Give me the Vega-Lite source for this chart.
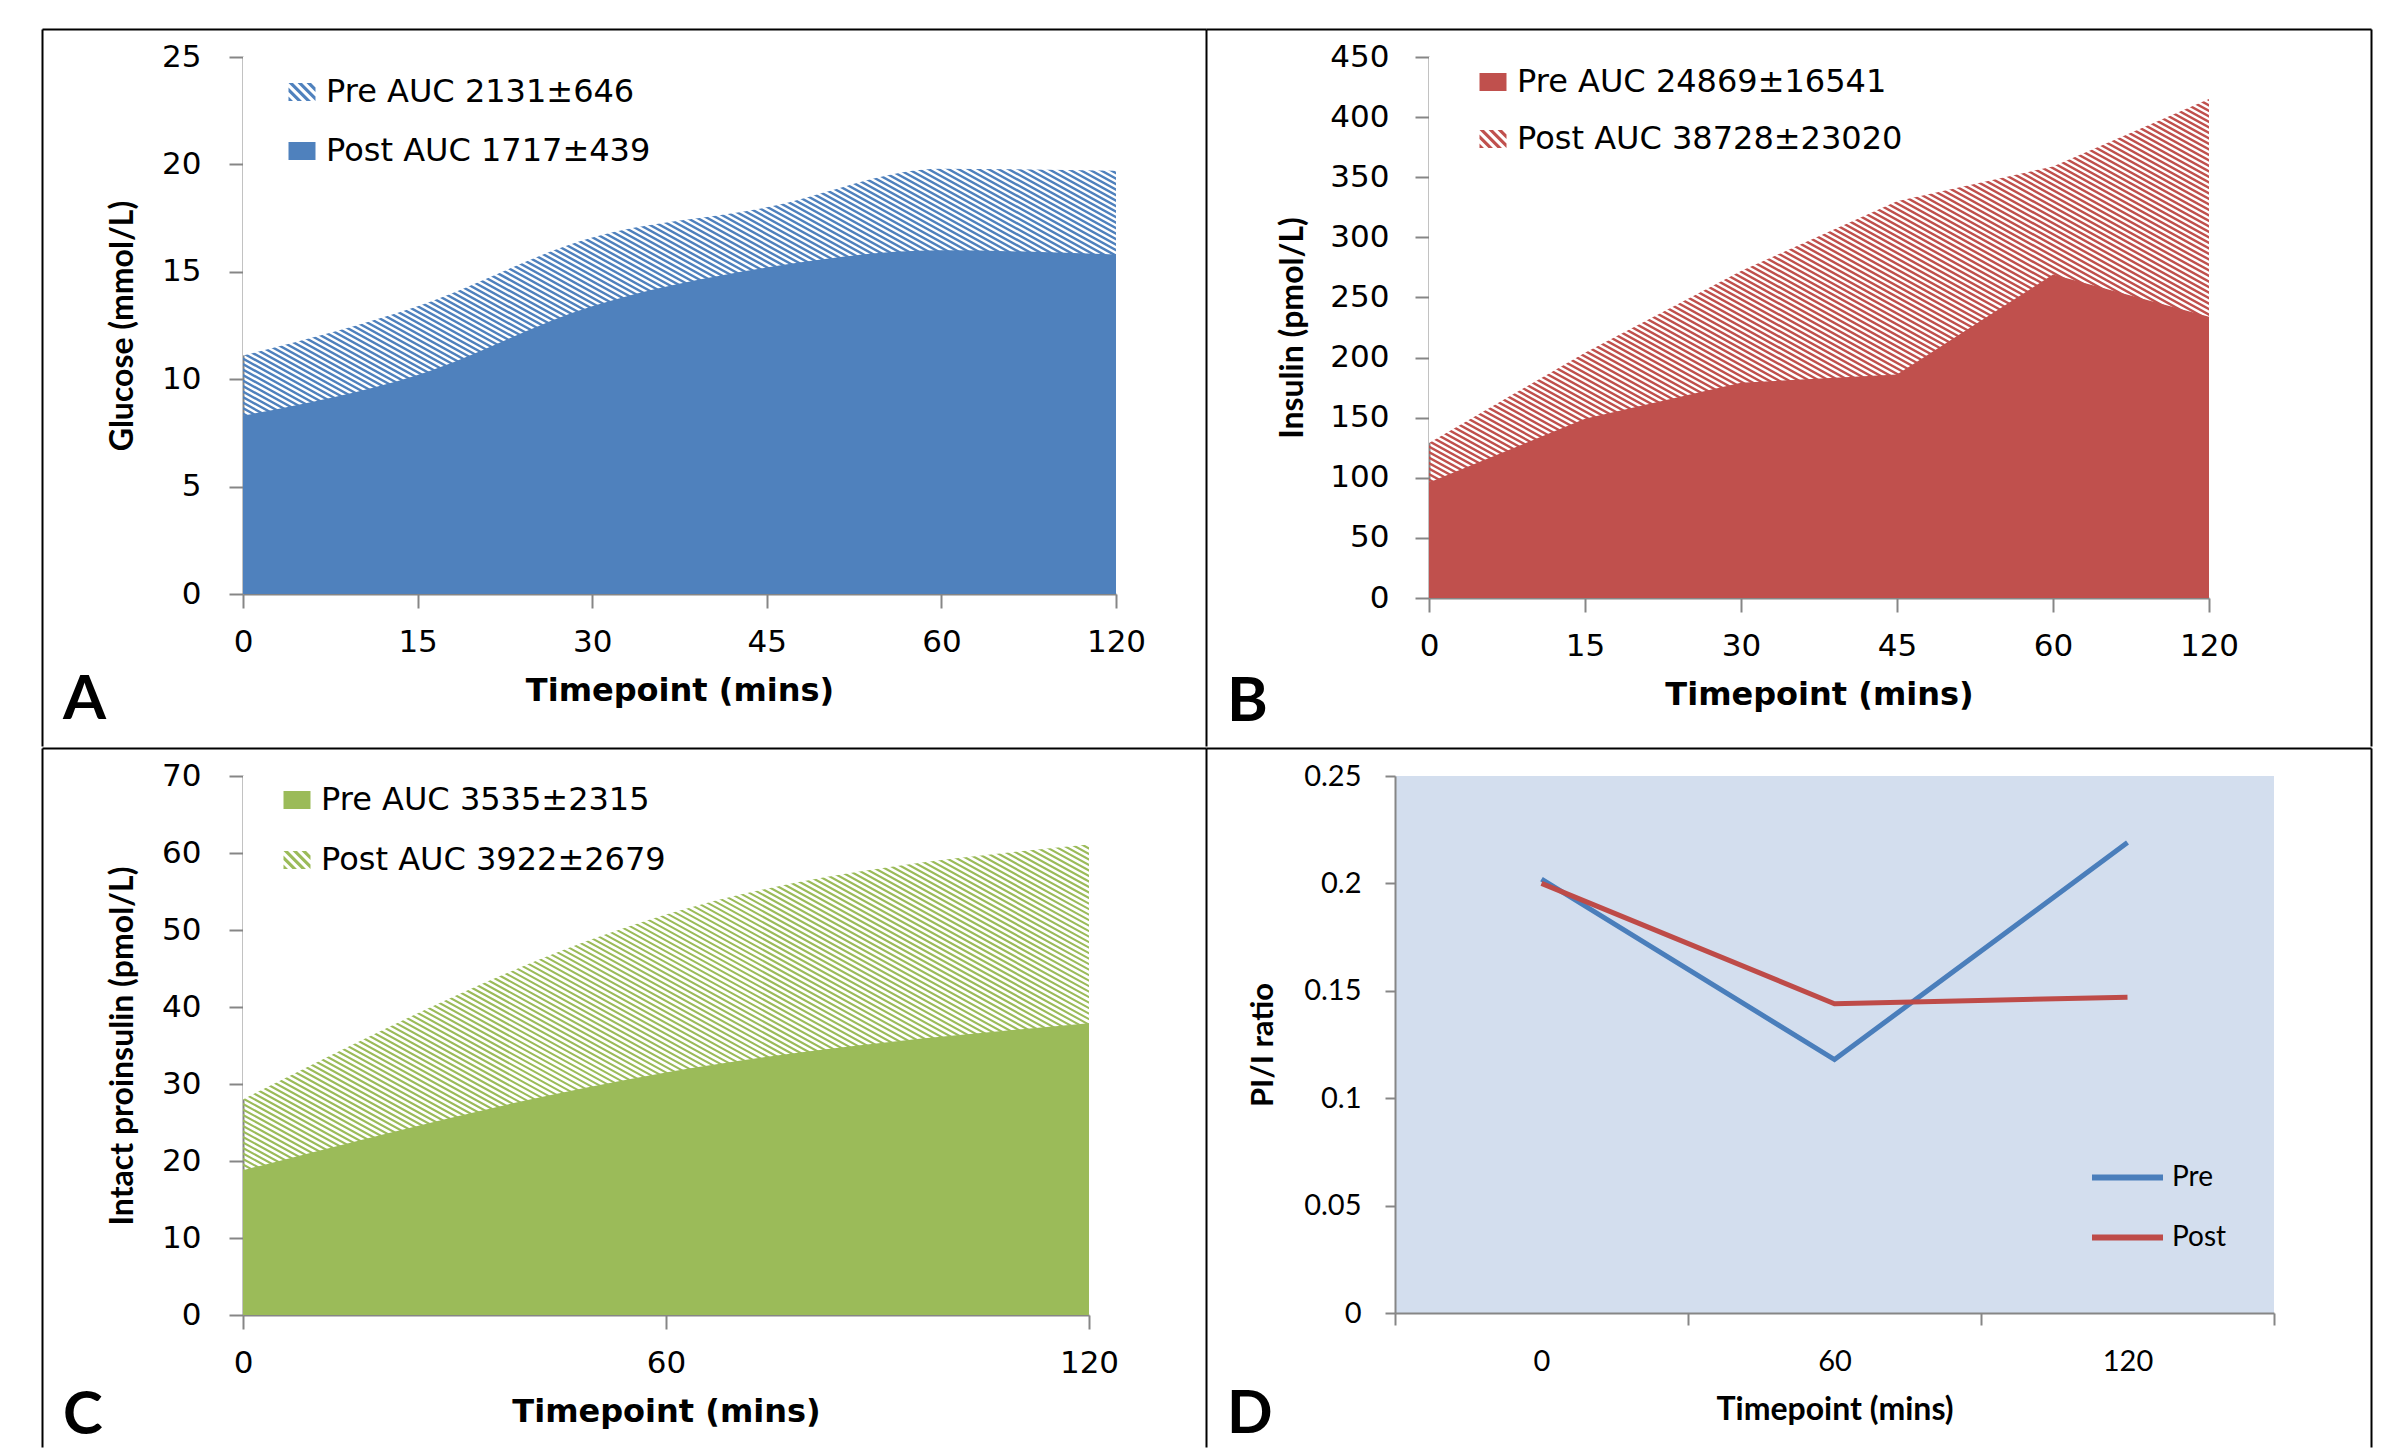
{
  "$schema": "https://vega.github.io/schema/vega-lite/v6.json",
  "background": "white",
  "padding": {"left": 42, "top": 29, "right": 0, "bottom": 0},
  "spacing": -26,
  "resolve": {"scale": {"fill": "independent", "shape": "independent", "color": "independent"}, "legend": {"fill": "independent", "shape": "independent", "color": "independent"}},
  "vconcat": [
    {
      "bounds": "flush",
      "spacing": 313,
      "resolve": {"scale": {"fill": "independent", "shape": "independent", "color": "independent"}, "legend": {"fill": "independent", "shape": "independent", "color": "independent"}},
      "hconcat": [
        {
          "width": 873,
          "height": 537,
          "title": {"text": "A", "orient": "bottom", "anchor": "start", "frame": "group", "dx": -180, "offset": -104, "font": "Lato", "fontWeight": "bold", "fontSize": 62, "color": "#000000"},
          "data": {"values": [
            {"t": 0, "v": 11.1, "s": "Pre"}, {"t": 15, "v": 13.4, "s": "Pre"}, {"t": 30, "v": 16.6, "s": "Pre"}, {"t": 45, "v": 18.0, "s": "Pre"}, {"t": 60, "v": 19.8, "s": "Pre"}, {"t": 120, "v": 19.7, "s": "Pre"},
            {"t": 0, "v": 8.3, "s": "Post"}, {"t": 15, "v": 10.2, "s": "Post"}, {"t": 30, "v": 13.4, "s": "Post"}, {"t": 45, "v": 15.2, "s": "Post"}, {"t": 60, "v": 16.0, "s": "Post"}, {"t": 120, "v": 15.8, "s": "Post"}
          ]},
          "resolve": {"scale": {"x": "independent", "y": "independent"}, "axis": {"x": "independent", "y": "independent"}},
          "layer": [
            {
              "encoding": {
                "x": {"field": "t", "type": "ordinal", "scale": {"type": "point", "padding": 0}, "axis": {"orient": "bottom", "title": "Timepoint (mins)", "labelAngle": 0, "labelPadding": 19, "titlePadding": 18}},
                "y": {"field": "v", "type": "quantitative", "scale": {"domain": [0, 25]}, "axis": {"orient": "left", "values": [0, 5, 10, 15, 20, 25], "title": "Glucose (mmol/L)", "labelPadding": 28, "titlePadding": 22}}
              },
              "layer": [
                {"transform": [{"filter": "datum.t === 0 && datum.s === 'Pre'"}],
                 "mark": {"type": "rule", "clip": true, "color": "#4F81BD", "strokeWidth": 1200, "strokeDash": [2.41, 2.41], "strokeCap": "butt"},
                 "encoding": {"x": {"datum": 0, "type": "ordinal"}, "x2": {"datum": 120}, "y": {"datum": -24.45, "type": "quantitative"}, "y2": {"datum": 49.45}}},
                {"transform": [{"filter": "datum.s === 'Pre'"}], "mark": {"type": "area", "interpolate": "monotone", "fill": "white"}, "encoding": {"y2": {"datum": 25}}},
                {"transform": [{"filter": "datum.s === 'Post'"}], "mark": {"type": "area", "interpolate": "monotone", "fill": "#4F81BD"}},
                {"transform": [{"filter": "false"}], "mark": {"type": "point", "filled": true, "opacity": 1, "strokeWidth": 0},
                 "encoding": {
                   "fill": {"field": "labA", "type": "nominal", "scale": {"domain": ["Pre AUC 2131±646", "Post AUC 1717±439"], "range": ["#4F81BD", "#4F81BD"]},
                            "legend": {"orient": "none", "legendX": 43, "legendY": 19, "title": null, "labelFont": "DejaVu Sans", "labelFontSize": 32, "labelColor": "#000000", "labelLimit": 800, "symbolSize": 729, "symbolStrokeWidth": 0, "rowPadding": 27, "labelOffset": 8, "padding": 0}},
                   "shape": {"field": "labA", "type": "nominal", "scale": {"domain": ["Pre AUC 2131±646", "Post AUC 1717±439"], "range": ["M-1,-0.667L-0.667,-0.667L0.667,0.667L0.333,0.667ZM-0.333,-0.667L0,-0.667L1,0.333L1,0.667ZM0.333,-0.667L0.667,-0.667L1,-0.333L1,0ZM-1,-0.333L0,0.667L-0.333,0.667L-1,0ZM-1,0.333L-0.667,0.667L-1,0.667Z", "M-1,-0.667H1V0.667H-1Z"]},
                            "legend": {"orient": "none", "legendX": 43, "legendY": 19, "title": null, "labelFont": "DejaVu Sans", "labelFontSize": 32, "labelColor": "#000000", "labelLimit": 800, "symbolSize": 729, "symbolStrokeWidth": 0, "rowPadding": 27, "labelOffset": 8, "padding": 0}}
                 }}
              ]
            },
            {"transform": [{"filter": "false"}], "mark": {"type": "point"},
             "encoding": {
               "x": {"field": "fx", "type": "quantitative", "scale": {"domain": [0, 1], "range": [-201, 963]}, "axis": {"orient": "top", "offset": 28, "ticks": false, "labels": false, "title": null, "domainColor": "#000000", "domainWidth": 2}},
               "y": {"field": "fy", "type": "quantitative", "scale": {"domain": [0, 1], "range": [689, -28]}, "axis": {"orient": "right", "offset": 90, "ticks": false, "labels": false, "title": null, "domainColor": "#000000", "domainWidth": 2}}
             }},
            {"transform": [{"filter": "false"}], "mark": {"type": "point"},
             "encoding": {
               "y": {"field": "fz", "type": "quantitative", "scale": {"domain": [0, 1], "range": [689, -28]}, "axis": {"orient": "left", "offset": 201, "ticks": false, "labels": false, "title": null, "domainColor": "#000000", "domainWidth": 2}}
             }}
          ]
        },
        {
          "width": 780,
          "height": 541,
          "title": {"text": "B", "orient": "bottom", "anchor": "start", "frame": "group", "dx": -202, "offset": -102, "font": "Lato", "fontWeight": "bold", "fontSize": 62, "color": "#000000"},
          "data": {"values": [
            {"t": 0, "v": 96, "s": "Pre"}, {"t": 15, "v": 149, "s": "Pre"}, {"t": 30, "v": 179, "s": "Pre"}, {"t": 45, "v": 186, "s": "Pre"}, {"t": 60, "v": 269, "s": "Pre"}, {"t": 120, "v": 234, "s": "Pre"},
            {"t": 0, "v": 129, "s": "Post"}, {"t": 15, "v": 204, "s": "Post"}, {"t": 30, "v": 272, "s": "Post"}, {"t": 45, "v": 330, "s": "Post"}, {"t": 60, "v": 359, "s": "Post"}, {"t": 120, "v": 415, "s": "Post"}
          ]},
          "resolve": {"scale": {"x": "independent", "y": "independent"}, "axis": {"x": "independent", "y": "independent"}},
          "layer": [
            {
              "encoding": {
                "x": {"field": "t", "type": "ordinal", "scale": {"type": "point", "padding": 0}, "axis": {"orient": "bottom", "title": "Timepoint (mins)", "labelAngle": 0, "labelPadding": 19, "titlePadding": 18}},
                "y": {"field": "v", "type": "quantitative", "scale": {"domain": [0, 450]}, "axis": {"orient": "left", "values": [0, 50, 100, 150, 200, 250, 300, 350, 400, 450], "title": "Insulin (pmol/L)", "labelPadding": 26, "titlePadding": 20}}
              },
              "layer": [
                {"transform": [{"filter": "datum.t === 0 && datum.s === 'Post'"}],
                 "mark": {"type": "rule", "clip": true, "color": "#C0504D", "strokeWidth": 1200, "strokeDash": [2.41, 2.41], "strokeCap": "butt"},
                 "encoding": {"x": {"datum": 0, "type": "ordinal"}, "x2": {"datum": 120}, "y": {"datum": -364.8, "type": "quantitative"}, "y2": {"datum": 814.8}}},
                {"transform": [{"filter": "datum.s === 'Post'"}], "mark": {"type": "area", "interpolate": "linear", "fill": "white"}, "encoding": {"y2": {"datum": 450}}},
                {"transform": [{"filter": "datum.s === 'Pre'"}], "mark": {"type": "area", "interpolate": "linear", "fill": "#C0504D"}},
                {"transform": [{"filter": "false"}], "mark": {"type": "point", "filled": true, "opacity": 1, "strokeWidth": 0},
                 "encoding": {
                   "fill": {"field": "labB", "type": "nominal", "scale": {"domain": ["Pre AUC 24869±16541", "Post AUC 38728±23020"], "range": ["#C0504D", "#C0504D"]},
                            "legend": {"orient": "none", "legendX": 48, "legendY": 9, "title": null, "labelFont": "DejaVu Sans", "labelFontSize": 32, "labelColor": "#000000", "labelLimit": 800, "symbolSize": 729, "symbolStrokeWidth": 0, "rowPadding": 25, "labelOffset": 8, "padding": 0}},
                   "shape": {"field": "labB", "type": "nominal", "scale": {"domain": ["Pre AUC 24869±16541", "Post AUC 38728±23020"], "range": ["M-1,-0.667H1V0.667H-1Z", "M-1,-0.667L-0.667,-0.667L0.667,0.667L0.333,0.667ZM-0.333,-0.667L0,-0.667L1,0.333L1,0.667ZM0.333,-0.667L0.667,-0.667L1,-0.333L1,0ZM-1,-0.333L0,0.667L-0.333,0.667L-1,0ZM-1,0.333L-0.667,0.667L-1,0.667Z"]},
                            "legend": {"orient": "none", "legendX": 48, "legendY": 9, "title": null, "labelFont": "DejaVu Sans", "labelFontSize": 32, "labelColor": "#000000", "labelLimit": 800, "symbolSize": 729, "symbolStrokeWidth": 0, "rowPadding": 25, "labelOffset": 8, "padding": 0}}
                 }}
              ]
            },
            {"transform": [{"filter": "false"}], "mark": {"type": "point"},
             "encoding": {
               "x": {"field": "fx", "type": "quantitative", "scale": {"domain": [0, 1], "range": [-223, 942]}, "axis": {"orient": "top", "offset": 28, "ticks": false, "labels": false, "title": null, "domainColor": "#000000", "domainWidth": 2}},
               "y": {"field": "fy", "type": "quantitative", "scale": {"domain": [0, 1], "range": [689, -28]}, "axis": {"orient": "right", "offset": 162, "ticks": false, "labels": false, "title": null, "domainColor": "#000000", "domainWidth": 2}}
             }}
          ]
        }
      ]
    },
    {
      "bounds": "flush",
      "spacing": 306,
      "resolve": {"scale": {"fill": "independent", "shape": "independent", "color": "independent"}, "legend": {"fill": "independent", "shape": "independent", "color": "independent"}},
      "hconcat": [
        {
          "width": 846,
          "height": 539,
          "title": {"text": "C", "orient": "bottom", "anchor": "start", "frame": "group", "dx": -180, "offset": -88, "font": "Lato", "fontWeight": "bold", "fontSize": 60, "color": "#000000"},
          "data": {"values": [
            {"t": 0, "v": 18.8, "s": "Pre"}, {"t": 60, "v": 31.5, "s": "Pre"}, {"t": 120, "v": 37.9, "s": "Pre"},
            {"t": 0, "v": 28.0, "s": "Post"}, {"t": 60, "v": 52.0, "s": "Post"}, {"t": 120, "v": 61.1, "s": "Post"}
          ]},
          "resolve": {"scale": {"x": "independent", "y": "independent"}, "axis": {"x": "independent", "y": "independent"}},
          "layer": [
            {
              "encoding": {
                "x": {"field": "t", "type": "ordinal", "scale": {"type": "point", "padding": 0}, "axis": {"orient": "bottom", "title": "Timepoint (mins)", "labelAngle": 0, "labelPadding": 19, "titlePadding": 18}},
                "y": {"field": "v", "type": "quantitative", "scale": {"domain": [0, 70]}, "axis": {"orient": "left", "values": [0, 10, 20, 30, 40, 50, 60, 70], "title": "Intact proinsulin (pmol/L)", "labelPadding": 28, "titlePadding": 22}}
              },
              "layer": [
                {"transform": [{"filter": "datum.t === 0 && datum.s === 'Post'"}],
                 "mark": {"type": "rule", "clip": true, "color": "#9BBB59", "strokeWidth": 1200, "strokeDash": [2.1, 2.72], "strokeCap": "butt"},
                 "encoding": {"x": {"datum": 0, "type": "ordinal"}, "x2": {"datum": 120}, "y": {"datum": -64.9, "type": "quantitative"}, "y2": {"datum": 134.9}}},
                {"transform": [{"filter": "datum.s === 'Post'"}], "mark": {"type": "area", "interpolate": "monotone", "fill": "white"}, "encoding": {"y2": {"datum": 70}}},
                {"transform": [{"filter": "datum.s === 'Pre'"}], "mark": {"type": "area", "interpolate": "monotone", "fill": "#9BBB59"}},
                {"transform": [{"filter": "false"}], "mark": {"type": "point", "filled": true, "opacity": 1, "strokeWidth": 0},
                 "encoding": {
                   "fill": {"field": "labC", "type": "nominal", "scale": {"domain": ["Pre AUC 3535±2315", "Post AUC 3922±2679"], "range": ["#9BBB59", "#9BBB59"]},
                            "legend": {"orient": "none", "legendX": 38, "legendY": 8, "title": null, "labelFont": "DejaVu Sans", "labelFontSize": 32, "labelColor": "#000000", "labelLimit": 800, "symbolSize": 729, "symbolStrokeWidth": 0, "rowPadding": 28, "labelOffset": 8, "padding": 0}},
                   "shape": {"field": "labC", "type": "nominal", "scale": {"domain": ["Pre AUC 3535±2315", "Post AUC 3922±2679"], "range": ["M-1,-0.667H1V0.667H-1Z", "M-1,-0.667L-0.667,-0.667L0.667,0.667L0.333,0.667ZM-0.333,-0.667L0,-0.667L1,0.333L1,0.667ZM0.333,-0.667L0.667,-0.667L1,-0.333L1,0ZM-1,-0.333L0,0.667L-0.333,0.667L-1,0ZM-1,0.333L-0.667,0.667L-1,0.667Z"]},
                            "legend": {"orient": "none", "legendX": 38, "legendY": 8, "title": null, "labelFont": "DejaVu Sans", "labelFontSize": 32, "labelColor": "#000000", "labelLimit": 800, "symbolSize": 729, "symbolStrokeWidth": 0, "rowPadding": 28, "labelOffset": 8, "padding": 0}}
                 }}
              ]
            },
            {"transform": [{"filter": "false"}], "mark": {"type": "point"},
             "encoding": {
               "x": {"field": "fx", "type": "quantitative", "scale": {"domain": [0, 1], "range": [-201, 963]}, "axis": {"orient": "top", "offset": 28, "ticks": false, "labels": false, "title": null, "domainColor": "#000000", "domainWidth": 2}},
               "y": {"field": "fy", "type": "quantitative", "scale": {"domain": [0, 1], "range": [671, -28]}, "axis": {"orient": "right", "offset": 117, "ticks": false, "labels": false, "title": null, "domainColor": "#000000", "domainWidth": 2}}
             }},
            {"transform": [{"filter": "false"}], "mark": {"type": "point"},
             "encoding": {
               "y": {"field": "fz", "type": "quantitative", "scale": {"domain": [0, 1], "range": [671, -28]}, "axis": {"orient": "left", "offset": 201, "ticks": false, "labels": false, "title": null, "domainColor": "#000000", "domainWidth": 2}}
             }}
          ]
        },
        {
          "width": 879,
          "height": 537,
          "view": {"fill": "#D3DEEE", "stroke": null},
          "title": {"text": "D", "orient": "bottom", "anchor": "start", "frame": "group", "dx": -168, "offset": -89, "font": "Lato", "fontWeight": "bold", "fontSize": 60, "color": "#000000"},
          "data": {"values": [
            {"t": 0, "v": 0.202, "s": "Pre"}, {"t": 60, "v": 0.118, "s": "Pre"}, {"t": 120, "v": 0.219, "s": "Pre"},
            {"t": 0, "v": 0.200, "s": "Post"}, {"t": 60, "v": 0.144, "s": "Post"}, {"t": 120, "v": 0.147, "s": "Post"}
          ]},
          "resolve": {"scale": {"x": "independent", "y": "independent"}, "axis": {"x": "independent", "y": "independent"}},
          "layer": [
            {
              "mark": {"type": "line", "strokeWidth": 5},
              "encoding": {
                "x": {"field": "t", "type": "ordinal", "bandPosition": 0.5, "scale": {"type": "band", "paddingInner": 0, "paddingOuter": 0},
                      "axis": {"orient": "bottom", "title": "Timepoint (mins)", "tickBand": "extent", "labelAngle": 0, "labelFont": "Lato", "labelFontSize": 29, "titleFont": "Lato", "titleFontSize": 32, "tickSize": 12, "labelPadding": 22, "titlePadding": 18}},
                "y": {"field": "v", "type": "quantitative", "scale": {"domain": [0, 0.25]},
                      "axis": {"orient": "left", "values": [0, 0.05, 0.1, 0.15, 0.2, 0.25], "format": "~g", "title": "PI/I ratio", "labelFont": "Lato", "labelFontSize": 29, "titleFont": "Lato", "titleFontSize": 31, "tickSize": 10, "labelPadding": 24, "titlePadding": 24}},
                "color": {"field": "s", "type": "nominal", "scale": {"domain": ["Pre", "Post"], "range": ["#4A7EBB", "#BE4B48"]},
                          "legend": {"orient": "none", "legendX": 694, "legendY": 363, "title": null, "symbolType": "stroke", "symbolSize": 5041, "symbolStrokeWidth": 6, "labelFont": "Lato", "labelFontSize": 28, "labelColor": "#000000", "labelOffset": 6, "rowPadding": 7, "padding": 0}}
              }
            },
            {"transform": [{"filter": "false"}], "mark": {"type": "point"},
             "encoding": {
               "x": {"field": "fx", "type": "quantitative", "scale": {"domain": [0, 1], "range": [-189, 976]}, "axis": {"orient": "top", "offset": 28, "ticks": false, "labels": false, "title": null, "domainColor": "#000000", "domainWidth": 2}},
               "y": {"field": "fy", "type": "quantitative", "scale": {"domain": [0, 1], "range": [671, -28]}, "axis": {"orient": "right", "offset": 97, "ticks": false, "labels": false, "title": null, "domainColor": "#000000", "domainWidth": 2}}
             }}
          ]
        }
      ]
    }
  ],
  "config": {
    "view": {"stroke": null},
    "axis": {"domainColor": "#868686", "domainWidth": 2, "tickColor": "#868686", "tickWidth": 2, "tickSize": 14, "labelFont": "DejaVu Sans", "labelFontSize": 31, "labelColor": "#000000", "titleFont": "DejaVu Sans", "titleFontSize": 32, "titleFontWeight": "bold", "titleColor": "#000000", "grid": false, "zindex": 1},
    "axisY": {"titleFont": "Lato", "titleFontSize": 32}
  }
}
